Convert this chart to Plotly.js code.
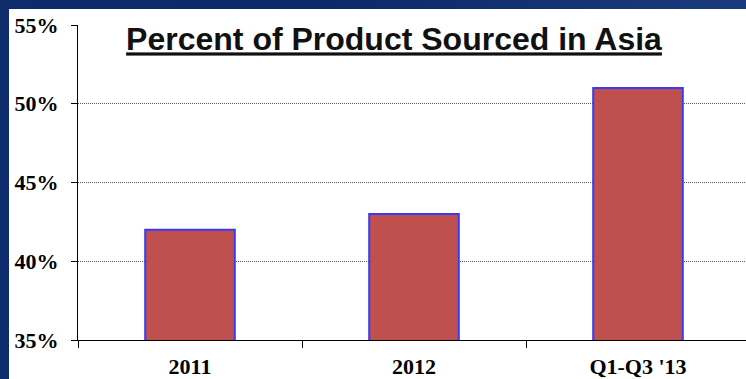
<!DOCTYPE html>
<html>
<head>
<meta charset="utf-8">
<script src="https://cdn.plot.ly/plotly-3.0.1.min.js"></script>
<style>
html,body{margin:0;padding:0;width:746px;height:379px;overflow:hidden;
background:linear-gradient(90deg,#0e2b6c 0%,#0b2868 40%,#1a3b7b 100%);}
#chart{position:absolute;left:9px;top:9px;width:760px;height:370px;}
</style>
</head>
<body>
<div id="chart"></div>
<script>
const categories = ["2011", "2012", "Q1-Q3 '13"];
const percentSourcedAsia = [42, 43, 51];
const chartTitle = "Percent of Product Sourced in Asia";

const trace = {
  type: "bar",
  x: categories,
  y: percentSourcedAsia,
  marker: {color: "#C0504D", line: {color: "#3a3af5", width: 2}},
  hoverinfo: "none"
};

const layout = {
  width: 760, height: 370,
  margin: {l: 69, r: 19, t: 16, b: 39, pad: 0},
  paper_bgcolor: "#ffffff",
  plot_bgcolor: "#ffffff",
  bargap: 0.6,
  showlegend: false,
  title: {
    text: "<u>" + chartTitle + "</u>",
    font: {family: "Liberation Sans, Arial, sans-serif", size: 32, color: "#111111", weight: "bold"},
    xref: "container", x: 385/760, xanchor: "center",
    yref: "container", y: 1 - 19/370, yanchor: "top"
  },
  xaxis: {
    type: "category",
    showline: true, linecolor: "#000000", linewidth: 1,
    ticks: "outside", tickson: "boundaries", ticklen: 7, tickcolor: "#000000", tickwidth: 1,
    tickfont: {family: "Liberation Serif, Times New Roman, serif", size: 22, color: "#000000", weight: "bold"},
    ticklabelstandoff: 7,
    showgrid: false, zeroline: false
  },
  yaxis: {
    range: [35, 55],
    dtick: 5, tick0: 35,
    ticksuffix: "%",
    showline: true, linecolor: "#000000", linewidth: 1,
    ticks: "outside", ticklen: 6, tickcolor: "#000000", tickwidth: 1,
    tickfont: {family: "Liberation Serif, Times New Roman, serif", size: 22, color: "#000000", weight: "bold"},
    ticklabelstandoff: 8,
    showgrid: true, gridcolor: "#5a5a5a", griddash: "1px,1px", gridwidth: 1,
    zeroline: false
  }
};

Plotly.newPlot("chart", [trace], layout, {staticPlot: true, displayModeBar: false});
</script>
</body>
</html>
